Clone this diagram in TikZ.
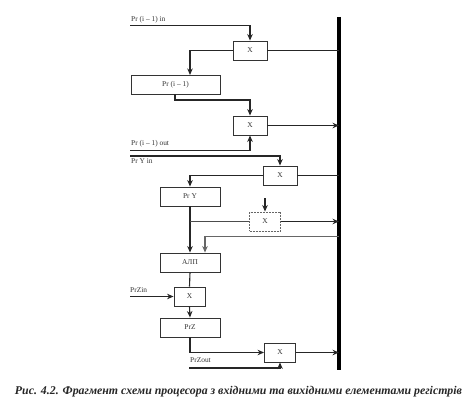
\documentclass[tikz,border=0pt]{standalone}
\usepackage{fontspec}
\setmainfont{Liberation Serif}
\usetikzlibrary{arrows.meta}
\tikzset{
  reg/.style={draw=black!80,line width=0.9pt,minimum width=#1,minimum height=19pt,inner sep=0pt,font=\fontsize{7.4}{8}\selectfont,text=black!80,fill=white},
  lab/.style={inner sep=0pt,anchor=west,font=\fontsize{7.4}{8}\selectfont,text=black!80},
  wire/.style={line width=1.1pt,draw=black!85},
  arr/.style={wire,-{Stealth[length=6.5pt,width=5.5pt]}},
}
\begin{document}
\begin{tikzpicture}[x=1pt,y=-1pt]
\useasboundingbox (0,0) rectangle (476,404);
% bus
\coordinate (bt) at (339,17);
\coordinate (bb) at (339,370);
\draw[line width=3.2pt,black] (bt) -- (bb);
% boxes
\node[reg=34pt] (x1) at (250,50.5) {X};
\node[reg=89pt] (pri) at (175.5,84.5) {Pr (i -- 1)};
\node[reg=34pt] (x2) at (250,125.5) {X};
\node[reg=34pt] (x3) at (280,175.5) {X};
\node[reg=60pt] (pry) at (190,196.5) {Pr Y};
\node[reg=31pt,dash pattern=on 2pt off 1pt,draw=black!60] (x4) at (265,221.5) {X};
\node[reg=60pt] (alu) at (190,262.5) {АЛП};
\node[reg=31pt] (x5) at (189.5,296.5) {X};
\node[reg=60pt] (prz) at (190,327.5) {PrZ};
\node[reg=31pt] (x6) at (280,352.5) {X};
% labels
\node[lab] (l1) at (131,19.5) {Pr (i -- 1) in};
\node[lab] (l2) at (131,144) {Pr (i -- 1) out};
\node[lab] (l3) at (131,161) {Pr Y in};
\node[lab] (l4) at (130,290) {PrZin};
\node[lab] (l5) at (190,360.5) {PrZout};
% free ends
\coordinate (s1) at (130,25.5);
\coordinate (s2) at (130,150.5);
\coordinate (s3) at (130,156);
\coordinate (s4) at (265,198);
\coordinate (s5) at (130,296.5);
\coordinate (s6) at (189,368);
\coordinate (j1) at (190,221.5);
\coordinate (j2) at (190,352.5);
\coordinate (a1) at (205,236.5);
\coordinate (t1) at (190,75);
\coordinate (b1) at (175,94);
\coordinate (m1) at (250,100);
% connectors
\draw[arr] (s1) -| (x1.north);
\draw[wire] (x1.east) -- (x1 -| bt);
\draw[arr] (x1.west) -| (t1);
\draw[arr] (b1) |- (m1) -- (x2.north);
\draw[arr] (x2.east) -- (x2 -| bt);
\draw[arr] (s2) -| (x2.south);
\draw[arr] (s3) -| (x3.north);
\draw[wire] (x3.east) -- (x3 -| bt);
\draw[arr] (x3.west) -| (pry.north);
\draw[arr] (s4) -- (x4.north);
\draw[arr] (pry.south) -- (alu.north);
\draw[wire,draw=black!70] (j1) -- (x4.west);
\draw[arr] (x4.east) -- (x4 -| bt);
\draw[arr,draw=black!60] (a1 -| bt) -- (a1) -- (a1 |- alu.north);
\draw[wire] (alu.south) -- (x5.north);
\draw[arr] (x5.south) -- (prz.north);
\draw[arr] (s5) -- (x5.west);
\draw[wire] (prz.south) -- (j2);
\draw[arr] (j2) -- (x6.west);
\draw[arr] (x6.east) -- (x6 -| bt);
\draw[arr] (s6) -| (x6.south);
% caption
\node[inner sep=0pt,font=\fontsize{11.85}{13}\selectfont\itshape\bfseries,text=black!85] (cap) at (238.5,392) {Рис. 4.2. Фрагмент схеми процесора з вхідними та вихідними елементами регістрів};
\end{tikzpicture}
\end{document}
